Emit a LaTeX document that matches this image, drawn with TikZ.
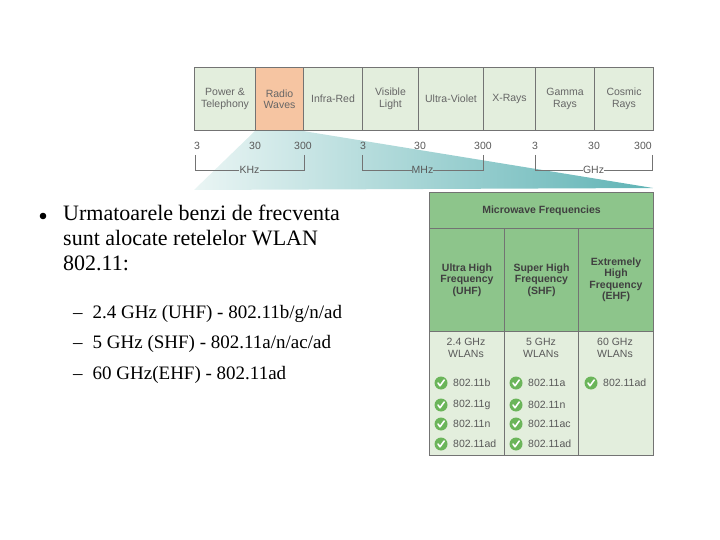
\documentclass[tikz,border=0pt]{standalone}
\usepackage{fontspec}
\setmainfont{Liberation Serif}
\newfontfamily\arial{Liberation Sans}
\begin{document}
\begin{tikzpicture}[x=1pt,y=-1pt,
  spec/.style={draw=black!55,line width=1pt,fill=lightg,font=\arial\fontsize{10.5}{11.5}\selectfont,text=black!60,align=center,inner sep=0},
  num/.style={font=\arial\fontsize{10.5}{11}\selectfont,text=black!65,inner sep=0},
  hd/.style={draw=black!55,line width=1pt,fill=hdg,font=\arial\bfseries\fontsize{10.5}{11.5}\selectfont,text=black!75,align=center,inner sep=0},
  lo/.style={draw=black!55,line width=1pt,fill=lightg},
  lab/.style={font=\arial\fontsize{10.5}{11.5}\selectfont,text=black!65,align=center,inner sep=0},
  std/.style={font=\arial\fontsize{10.5}{11}\selectfont,text=black!65,anchor=west,inner sep=0},
  bul/.style={font=\fontsize{22}{25}\selectfont,anchor=north west,align=left,inner sep=0},
  sub/.style={font=\fontsize{19}{22}\selectfont,anchor=west,inner sep=0}]
\definecolor{lightg}{HTML}{E3EEDD}
\definecolor{hdg}{HTML}{8DC58B}
\definecolor{rad}{HTML}{F6C5A2}
\definecolor{tealL}{HTML}{EAF5F4}
\definecolor{tealD}{HTML}{5FB3B5}
\definecolor{chk}{HTML}{6BB55A}
\useasboundingbox (0,0) rectangle (720,540);
% wedge
\shade[left color=tealL,right color=tealD] (255,131) -- (303,131) -- (653,188) -- (194,190) -- cycle;
% spectrum boxes
\foreach \a/\b/\t/\n in {194/255/{Power \&\\Telephony}/s1,303/362/{Infra-Red}/s3,362/418/{Visible\\Light}/s4,418/483/{Ultra-Violet}/s5,483/535/{X-Rays}/s6,535/594/{Gamma\\Rays}/s7,594/653/{Cosmic\\Rays}/s8}
  \node[spec,minimum width={\b-\a},minimum height=63,anchor=north west] (\n) at (\a,67) {\t};
\node[spec,fill=rad,minimum width=48,minimum height=63,anchor=north west] (s2) at (255,67) {Radio\\Waves};
% numbers
\foreach \x/\t/\n in {197/3/n1,255/30/n2,303/300/n3,363/3/n4,420/30/n5,483/300/n6,535/3/n7,594/30/n8,643/300/n9}
  \node[num] (\n) at (\x,146) {\t};
% brackets
\foreach \a/\b/\t/\n in {195/304/KHz/k,362/483/MHz/m,535/652/GHz/g}{
  \coordinate (\n1) at (\a,155); \coordinate (\n2) at (\b,155);
  \node[num,fill=none] (\n t) at ({(\a+\b)/2},170) {\t};
  \draw[black!55,line width=0.8pt] (\n1) |- (\n t.west);
  \draw[black!55,line width=0.8pt] (\n2) |- (\n t.east);
}
% table
\node[hd,minimum width=224,minimum height=36,anchor=north west] (th) at (429,192) {Microwave Frequencies};
\node[hd,minimum width=75,minimum height=103,anchor=north west] (c1) at (429,228) {Ultra High\\Frequency\\(UHF)};
\node[hd,minimum width=74,minimum height=103,anchor=north west] (c2) at (504,228) {Super High\\Frequency\\(SHF)};
\node[hd,minimum width=75,minimum height=103,anchor=north west] (c3) at (578,228) {Extremely\\High\\Frequency\\(EHF)};
\node[lo,minimum width=75,minimum height=124,anchor=north west] (d1) at (429,331) {};
\node[lo,minimum width=74,minimum height=124,anchor=north west] (d2) at (504,331) {};
\node[lo,minimum width=75,minimum height=124,anchor=north west] (d3) at (578,331) {};
\node[lab] (w1) at (466,348) {2.4 GHz\\WLANs};
\node[lab] (w2) at (541,348) {5 GHz\\WLANs};
\node[lab] (w3) at (615,348) {60 GHz\\WLANs};
\foreach \x/\y/\t/\n in {441/383/802.11b/a1,441/405/802.11g/a2,441/424/802.11n/a3,441/444/802.11ad/a4,
  516/383/802.11a/b1,516/405/802.11n/b2,516/424/802.11ac/b3,516/444/802.11ad/b4,591/383/802.11ad/e1}{
  \fill[chk] (\x,\y) circle (6.5);
  \draw[white,line width=1.6pt,line cap=round,line join=round] (\x-3,\y) -- (\x-1,\y+2.8) -- (\x+3.2,\y-3);
  \node[std] (\n) at (\x+12,\y) {\t};
}
% text
\fill (43,216) circle (3.3);
\node[bul] (t1) at (63,205) {Urmatoarele benzi de frecventa\\sunt alocate retelelor WLAN\\802.11:};
\node[sub] (x1) at (73,314) {–\hspace{10pt}2.4 GHz (UHF) - 802.11b/g/n/ad};
\node[sub] (x2) at (73,344) {–\hspace{10pt}5 GHz (SHF) - 802.11a/n/ac/ad};
\node[sub] (x3) at (73,375) {–\hspace{10pt}60 GHz(EHF) - 802.11ad};
\end{tikzpicture}
\end{document}
